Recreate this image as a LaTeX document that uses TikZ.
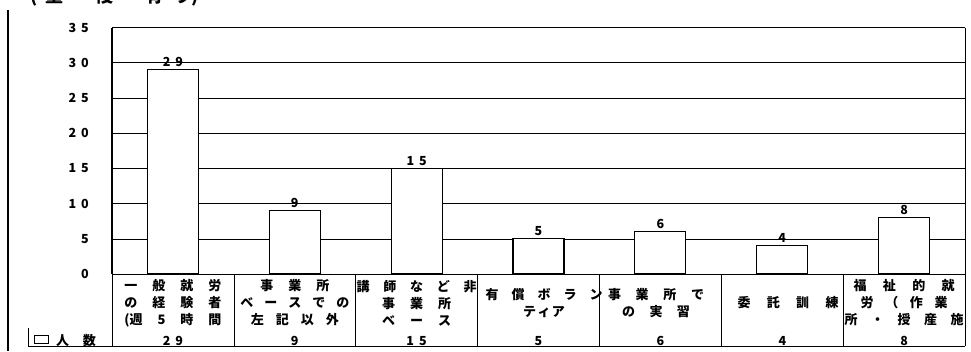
\documentclass[tikz,border=0pt]{standalone}
\usepackage{fontspec}
\newfontfamily\jfont{Noto Sans CJK JP}
\newcommand{\catline}[2]{\makebox[#1][s]{\spaceskip=0pt plus 1fil\relax #2}}
\newcommand{\digs}[2]{#1\hspace{5pt}#2}

\begin{document}
\begin{tikzpicture}[x=1pt,y=1pt,
    jp/.style={font=\jfont\bfseries\fontsize{13}{17}\selectfont, inner sep=0pt, align=center},
    num/.style={font=\jfont\bfseries\fontsize{12.5}{14}\selectfont, inner sep=0pt},
    gridline/.style={line width=.6pt},
    bar/.style={draw, line width=1.2pt, fill=white}]

  \useasboundingbox (0,0) rectangle (971,351);

  % title, cut off by the top edge
  \node[font=\jfont\bfseries\fontsize{18}{20}\selectfont, inner sep=0pt, anchor=base west]
    (title) at (30,348) {(\hspace{8pt}重\hspace{32pt}複\hspace{32pt}有\hspace{10pt}り)};

  \draw[line width=1.2pt] (8,341) -- (8,0);

  % plot area
  \begin{scope}[yshift=77pt, y=7.04pt]
    \foreach \v in {5,10,...,35}
      \draw[gridline] (112,\v) -- (965,\v);
    \draw[line width=.8pt] (112,0) -- (965,0);
    \draw[line width=1.2pt] (112,0) -- (112,35);
    \draw[gridline] (965,0) -- (965,35);
    \foreach \v/\lab in {0/0,5/5,10/\digs10,15/\digs15,20/\digs20,25/\digs25,30/\digs30,35/\digs35}
      \node[num, anchor=east] (tick\v) at (89,\v) {\lab};
    \foreach \i/\v/\lab in {1/29/\digs29,2/9/9,3/15/\digs15,4/5/5,5/6/6,6/4/4,7/8/8} {
      \pgfmathsetmacro{\c}{112+121.86*(\i-.5)}
      \draw[bar] (\c-25.5,0) rectangle (\c+25.5,\v);
      \node[num, anchor=south, yshift=3pt] (val\i) at (\c,\v) {\lab};
    }
  \end{scope}

  % data table
  \foreach \j in {0,...,7}
    \draw[gridline] (112+121.86*\j,77) -- (112+121.86*\j,5);
  \draw[gridline] (28,5) -- (965,5);
  \draw[gridline] (28,23) -- (28,5);

  \node[draw, line width=.8pt, minimum width=14pt, minimum height=8pt, inner sep=0pt] (key) at (41,12) {};
  \node[jp] (keylbl) at (76,10) {\catline{40pt}{人 数}};

  \begin{scope}[every node/.style={jp}]
    \node (cat1) at (172.9,48) {\catline{97pt}{一 般 就 労}\\ \catline{97pt}{の 経 験 者}\\ \catline{97pt}{(週 5 時 間}};
    \node (cat2) at (294.8,48) {\catline{69pt}{事 業 所}\\ \catline{109pt}{ベ ー ス で の}\\ \catline{88pt}{左 記 以 外}};
    \node (cat3) at (416.6,48) {\catline{120pt}{講 師 な ど 非}\\ \catline{69pt}{事 業 所}\\ \catline{69pt}{ベ ー ス}};
    \node (cat4) at (544,48) {\catline{117pt}{有 償 ボ ラ ン}\\ \catline{42pt}{テ ィ ア}};
    \node (cat5) at (656,48) {\catline{96pt}{事 業 所 で}\\ \catline{68pt}{の 実 習}};
    \node (cat6) at (788,48) {\catline{101pt}{委 託 訓 練}};
    \node (cat7) at (904.1,48) {\catline{101pt}{福 祉 的 就}\\ \catline{87pt}{労 （ 作 業}\\ \catline{119pt}{所 ・ 授 産 施}};
  \end{scope}

  \begin{scope}[every node/.style={num}]
    \node (n1) at (172.9,10) {\digs29};
    \node (n2) at (294.8,10) {9};
    \node (n3) at (416.6,10) {\digs15};
    \node (n4) at (538.5,10) {5};
    \node (n5) at (660.4,10) {6};
    \node (n6) at (782.3,10) {4};
    \node (n7) at (904.1,10) {8};
  \end{scope}

\end{tikzpicture}
\end{document}
